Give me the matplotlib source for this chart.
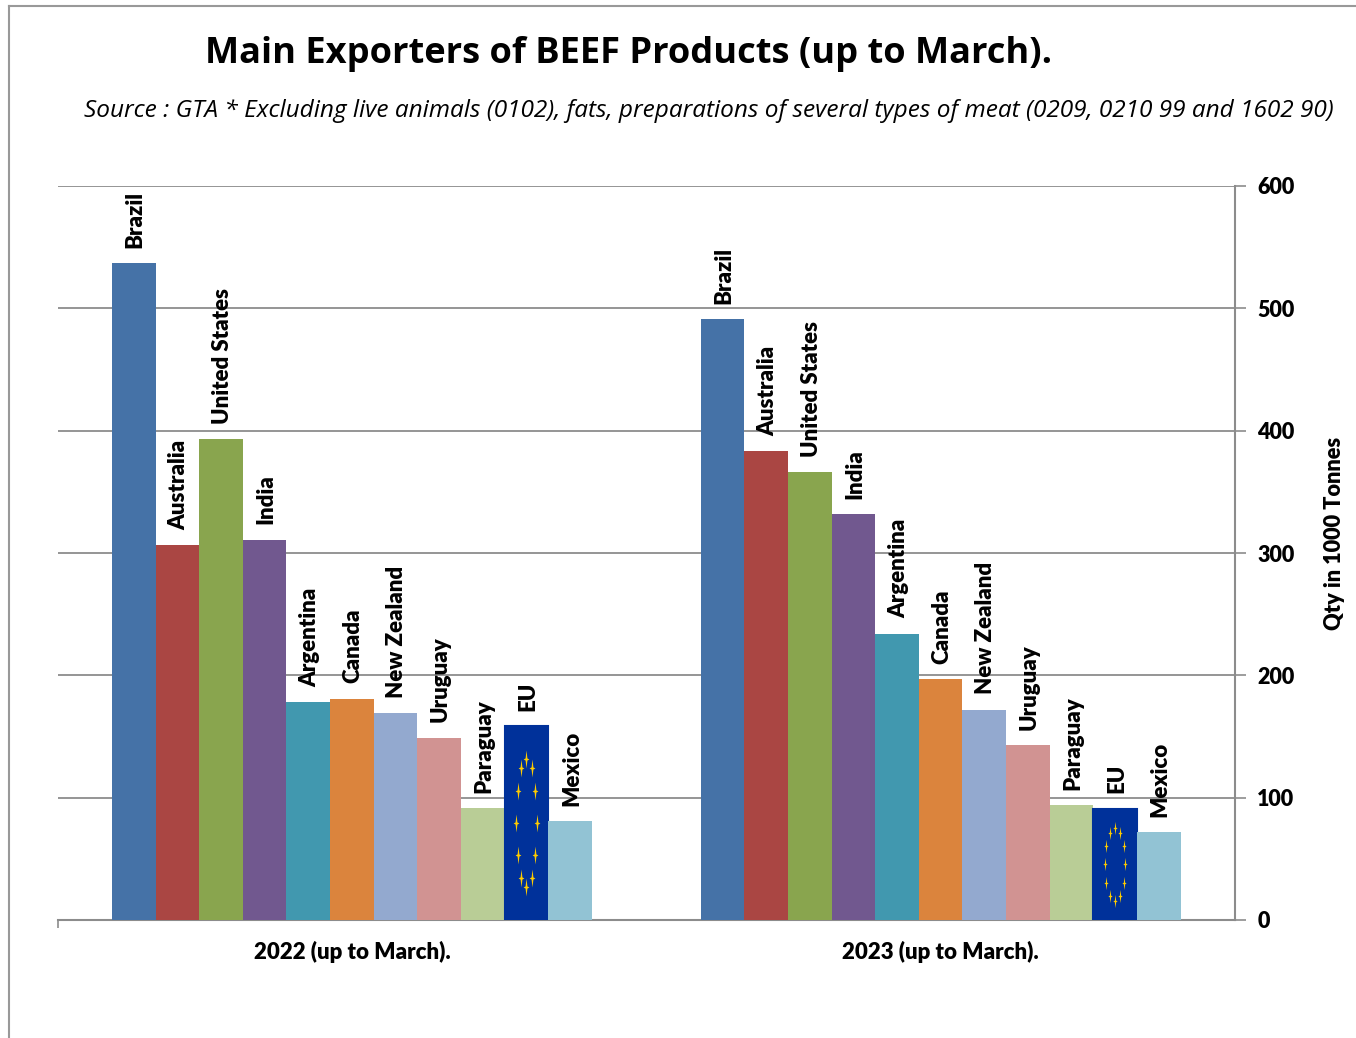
import numpy as np
import matplotlib
matplotlib.use("Agg")
import matplotlib.pyplot as plt
from matplotlib.path import Path
from matplotlib.lines import Line2D

periods = ["2022 (up to March).", "2023 (up to March)."]
countries = ["Brazil", "Australia", "United States", "India", "Argentina", "Canada",
             "New Zealand", "Uruguay", "Paraguay", "EU", "Mexico"]
qty_2022 = [537, 306.5, 393, 311, 178, 181, 169, 149, 91.5, 158.5, 81]
qty_2023 = [491, 383, 366, 332, 234, 197, 172, 143, 94, 91, 72]
colors = ["#4572A7", "#AA4643", "#89A54E", "#71588F", "#4198AF", "#DB843D",
          "#93A9CF", "#D19392", "#B9CD96", "#00319A", "#92C3D4"]
y_ticks = [0, 100, 200, 300, 400, 500, 600]

W, H = 1356, 1038
fig = plt.figure(figsize=(W / 100, H / 100), dpi=100)
ax = fig.add_axes([57.5 / W, 1 - 920 / H, (1235 - 57.5) / W, (920 - 186) / H])

grey = "#8C8C8C"
bold = {"fontweight": 800, "family": "Lato"}
bar_w = 43.65 / 589
x_pos = np.arange(len(periods)) + 0.5
star = Path([(0, 1), (0.1, 0.12), (0.32, 0), (0.1, -0.12), (0, -1), (-0.1, -0.12), (-0.32, 0), (-0.1, 0.12), (0, 1)],
            closed=True)

for p, vals in enumerate([qty_2022, qty_2023]):
    for i, v in enumerate(vals):
        x = x_pos[p] + (i - 5) * bar_w
        is_eu = countries[i] == "EU"
        ax.bar(x, v, bar_w, color=colors[i], zorder=3, edgecolor=colors[i], linewidth=1.5 if is_eu else 0)
        ax.annotate(countries[i], (x, v), xytext=(1, 11), textcoords="offset points",
                    rotation=90, ha="center", va="bottom", fontsize=16, zorder=4, **bold)
        if is_eu:
            # ring of stars stretched with the flag picture
            ang = np.arange(12) * np.pi / 6
            sx = x + 0.235 * bar_w * np.cos(ang)
            sy = v / 2 + 0.33 * v * np.sin(ang)
            ax.plot(sx, sy, ls="none", marker=star, ms=5 + 0.05 * v, color="#FFCC00", mew=0, zorder=5)

ax.set_xlim(0, 2)
ax.set_ylim(0, 600)
ax.set_xticks([0])
ax.set_xticklabels([])
ax.set_xticks(x_pos, minor=True)
ax.set_xticklabels(periods, minor=True, fontsize=16, **bold)
ax.tick_params(axis="x", which="minor", length=0, pad=15)
ax.tick_params(axis="x", which="major", length=6, width=1.2, color=grey)
ax.yaxis.tick_right()
ax.set_yticks(y_ticks)
ax.set_yticklabels(y_ticks, fontsize=15.5, **bold)
ax.tick_params(axis="y", length=8, width=1.2, color=grey, pad=8)
ax.grid(axis="y", color=grey, lw=1.3, zorder=1)
ax.set_axisbelow(True)
for s in ["top", "left"]:
    ax.spines[s].set_visible(False)
for s in ["right", "bottom"]:
    ax.spines[s].set_color(grey)
    ax.spines[s].set_linewidth(1.5)
ax.yaxis.set_label_position("right")
ax.set_ylabel("Qty in 1000 Tonnes", fontsize=15.7, **bold)
ax.yaxis.set_label_coords(1.076, 0.527)

fig.text(629 / W, 1 - 54 / H, "Main Exporters of BEEF Products (up to March).", ha="center", va="center",
         fontsize=26.1, fontweight="bold", family="Open Sans")
fig.text(709 / W, 1 - 111 / H,
         "Source : GTA * Excluding live animals (0102), fats, preparations of several types of meat (0209, 0210 99 and 1602 90)",
         ha="center", va="center", fontsize=17.6, style="italic", family="Open Sans")

# frame of the picture
fig.add_artist(Line2D([9 / W, 9 / W], [0, 1 - 6 / H], color="#999999", lw=1.5))
fig.add_artist(Line2D([9 / W, 1], [1 - 6 / H, 1 - 6 / H], color="#999999", lw=1.5))

fig.savefig("out.png", dpi=100)
